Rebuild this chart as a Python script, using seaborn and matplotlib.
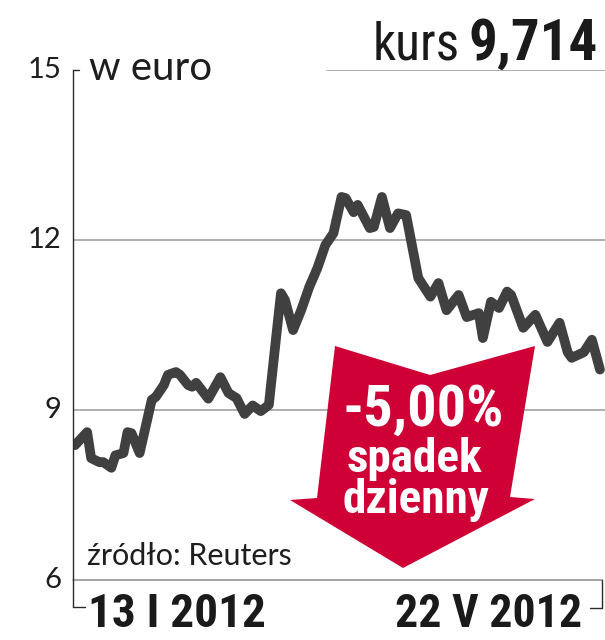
import matplotlib
matplotlib.use("Agg")
import numpy as np
import pandas as pd
import matplotlib.pyplot as plt
import matplotlib.dates as mdates
import seaborn as sns
from matplotlib import font_manager
from matplotlib.patches import Polygon
from matplotlib.lines import Line2D

# ---------------- data ----------------
daty = ["2012-01-13", "2012-01-16", "2012-01-17", "2012-01-19", "2012-01-20",
        "2012-01-22", "2012-01-23", "2012-01-25", "2012-01-26", "2012-01-27",
        "2012-01-29", "2012-02-01", "2012-02-02", "2012-02-04", "2012-02-05",
        "2012-02-07", "2012-02-08", "2012-02-10", "2012-02-11", "2012-02-12",
        "2012-02-15", "2012-02-18", "2012-02-20", "2012-02-22", "2012-02-24",
        "2012-02-26", "2012-02-28", "2012-03-01", "2012-03-03", "2012-03-04",
        "2012-03-05", "2012-03-07", "2012-03-09", "2012-03-11", "2012-03-13",
        "2012-03-15", "2012-03-17", "2012-03-19", "2012-03-20", "2012-03-22",
        "2012-03-23", "2012-03-26", "2012-03-27", "2012-03-29", "2012-03-31",
        "2012-04-02", "2012-04-04", "2012-04-07", "2012-04-10", "2012-04-12",
        "2012-04-14", "2012-04-17", "2012-04-19", "2012-04-22", "2012-04-23",
        "2012-04-25", "2012-04-27", "2012-04-29", "2012-04-30", "2012-05-03",
        "2012-05-06", "2012-05-09", "2012-05-12", "2012-05-14", "2012-05-15",
        "2012-05-18", "2012-05-20", "2012-05-22"]
kurs = [8.38, 8.61, 8.15, 8.08, 8.08,
        7.98, 8.20, 8.24, 8.61, 8.59,
        8.24, 9.18, 9.23, 9.44, 9.62,
        9.67, 9.62, 9.44, 9.41, 9.48,
        9.20, 9.58, 9.30, 9.21, 8.93,
        9.08, 8.98, 9.09, 10.41, 11.06,
        10.94, 10.41, 10.76, 11.17, 11.50,
        11.91, 12.12, 12.76, 12.74, 12.49,
        12.62, 12.21, 12.23, 12.76, 12.21,
        12.47, 12.44, 11.33, 11.00, 11.24,
        10.76, 11.03, 10.64, 10.71, 10.27,
        10.91, 10.80, 11.09, 11.03, 10.45,
        10.68, 10.20, 10.54, 10.02, 9.92,
        10.02, 10.24, 9.714]
y_ticks = [6, 9, 12, 15]
y_tick_labels = ["6", "9", "12", "15"]
x_labels = ["13 I 2012", "22 V 2012"]
jednostka = "w euro"
kurs_label = "kurs"
kurs_value = "9,714"
zmiana = "-5,00%"
zmiana_opis = ["spadek", "dzienny"]
zrodlo = "źródło: Reuters"

df = pd.DataFrame({"data": pd.to_datetime(daty), "kurs": kurs})

# ---------------- style ----------------
sns.set_theme(style="white")
installed = {f.name for f in font_manager.fontManager.ttflist}

def pick(cands):
    for c in cands:
        if c in installed:
            return c
    return "DejaVu Sans"

cond = pick(["Liberation Sans Narrow", "Roboto Condensed", "Roboto", "Liberation Sans"])
light = pick(["Lato", "Open Sans", "Roboto", "DejaVu Sans"])
plt.rcParams["font.family"] = [cond, "DejaVu Sans"]

W, H = 605, 640
fig = plt.figure(figsize=(6.05, 6.4), dpi=100)
fx = lambda px: px / W
fy = lambda py: 1 - py / H

ax_l, ax_r, ax_t, ax_b = 73, 605, 70, 580
ax = fig.add_axes([fx(ax_l), fy(ax_b), fx(ax_r) - fx(ax_l), fy(ax_t) - fy(ax_b)])

grid_c = "#9a9a9a"
for v in y_ticks:
    if v == 15:
        ax.axhline(v, xmin=(327 - ax_l) / (ax_r - ax_l), xmax=1, color=grid_c, lw=1.1, zorder=1)
    elif v == 6:
        ax.axhline(v, xmin=0, xmax=(602 - ax_l) / (ax_r - ax_l), color="#8a8a8a", lw=1.1,
                   zorder=1, clip_on=False)
    else:
        ax.axhline(v, color=grid_c, lw=1.1, zorder=1)

sns.lineplot(data=df, x="data", y="kurs", ax=ax, color="#404040", lw=7,
             solid_joinstyle="round", solid_capstyle="round", zorder=3)

d0 = mdates.date2num(pd.Timestamp(daty[0]))
d1 = mdates.date2num(pd.Timestamp(daty[-1]))
ax.set_xlim(d0 - 0.5, d1 + 1.25)
ax.set_ylim(6, 15)
ax.set_xticks([])
ax.set_yticks([])
ax.set_xlabel("")
ax.set_ylabel("")
for s in ax.spines.values():
    s.set_visible(False)
ax.patch.set_alpha(0)

# axis brackets (decoration)
dark = "#2a2a2a"
for (xa, ya, xb, yb) in [(73, 70, 73, 607), (73, 70, 79, 70), (73, 607, 85, 607),
                         (602, 580, 602, 608), (602, 608, 590, 608)]:
    fig.add_artist(Line2D([fx(xa), fx(xb)], [fy(ya), fy(yb)], color=dark, lw=1.0,
                          transform=fig.transFigure))

txt_c = "#1e1e1e"
# y tick labels
for v, lab in zip(y_ticks, y_tick_labels):
    ax.text(-0.022, (v - 6) / 9, lab, transform=ax.transAxes, ha="right", va="center",
            fontsize=21, family=light, fontweight="normal", color=txt_c)

fig.text(fx(89), fy(80), jednostka, ha="left", va="baseline", fontsize=29,
         family=light, fontweight="normal", color=txt_c)

# kurs label
t1 = fig.text(fx(598), fy(60), kurs_value, ha="right", va="baseline", fontsize=41,
              fontweight="bold", color="#1a1a1a")
fig.canvas.draw()
bb = t1.get_window_extent()
fig.text(bb.x0 / W - fx(9), fy(60), kurs_label, ha="right", va="baseline",
         fontsize=37, color="#1a1a1a")

# x labels
fig.text(fx(88), fy(627), x_labels[0], ha="left", va="baseline", fontsize=34,
         fontweight="bold", color="#1a1a1a")
fig.text(fx(582), fy(627), x_labels[1], ha="right", va="baseline", fontsize=33,
         fontweight="bold", color="#1a1a1a")

fig.text(fx(87), fy(565), zrodlo, ha="left", va="baseline", fontsize=22,
         family=light, fontweight="normal", color=txt_c)

# red arrow
arrow_px = [(335, 346), (430, 375), (535, 346), (510, 497), (535, 499),
            (403, 568), (290, 500), (317, 498)]
poly = Polygon([(fx(a), fy(b)) for a, b in arrow_px], closed=True,
               transform=fig.transFigure, facecolor="#cf0036", edgecolor="none", zorder=4)
fig.add_artist(poly)
fig.text(fx(423), fy(426), zmiana, ha="center", va="baseline", fontsize=42,
         fontweight="bold", color="white", zorder=5)
fig.text(fx(414), fy(472), zmiana_opis[0], ha="center", va="baseline", fontsize=34,
         fontweight="bold", color="white", zorder=5)
fig.text(fx(416), fy(513), zmiana_opis[1], ha="center", va="baseline", fontsize=34,
         fontweight="bold", color="white", zorder=5)

fig.savefig("out.png", dpi=100)
